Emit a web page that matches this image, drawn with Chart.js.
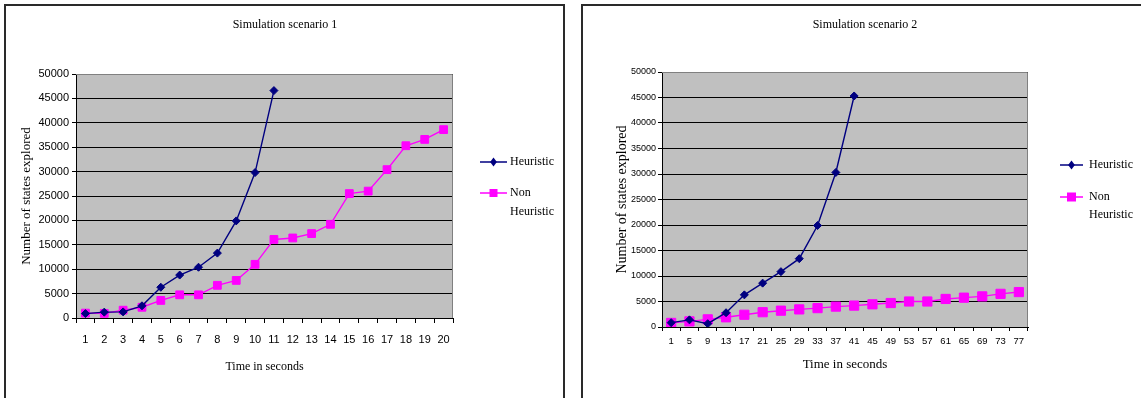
<!DOCTYPE html>
<html>
<head>
<meta charset="utf-8">
<script src="https://cdn.jsdelivr.net/npm/chart.js@4/dist/chart.umd.min.js"></script>
<style>
  body { margin: 0; background: #fff; width: 1141px; height: 398px; overflow: hidden; position: relative; }
  .box { position: absolute; top: 4px; height: 460px; border: 2px solid #2a2a2a; }
  canvas { position: absolute; top: 0; }
</style>
</head>
<body>
<div class="box" style="left:4px; width:557px;"></div>
<div class="box" style="left:581px; width:700px;"></div>
<canvas id="chart1" width="570" height="398" style="left:0px"></canvas>
<canvas id="chart2" width="571" height="398" style="left:570px"></canvas>
<script>
// scenario 1 : one reading per second
const seconds1 = ['1','2','3','4','5','6','7','8','9','10','11','12','13','14','15','16','17','18','19','20'];
const heuristic1 = [900, 1200, 1250, 2500, 6300, 8800, 10400, 13300, 19900, 29800, 46600];
const nonHeuristic1 = [1000, 950, 1600, 2200, 3600, 4750, 4750, 6700, 7700, 11000, 16100, 16400, 17300, 19200, 25500, 26000, 30400, 35300, 36600, 38600];

// scenario 2 : one reading every 4 seconds
const seconds2 = ['1','5','9','13','17','21','25','29','33','37','41','45','49','53','57','61','65','69','73','77'];
const heuristic2 = [850, 1400, 650, 2800, 6300, 8600, 10850, 13400, 19900, 30300, 45300];
const nonHeuristic2 = [800, 1100, 1500, 1900, 2400, 2900, 3200, 3450, 3700, 4000, 4200, 4450, 4700, 5000, 5000, 5500, 5750, 6000, 6500, 6850];

const yTicks = { min: 0, max: 50000, step: 5000 };

const SERIF = "'Liberation Serif', 'Times New Roman', serif";
const SANS = "'Liberation Sans', Arial, sans-serif";
const NARROW = "'Liberation Sans Narrow', 'Liberation Sans', Arial, sans-serif";

// grey plot area, title and the legend on the right
const frame = {
  id: 'frame',
  beforeDraw(chart) {
    const a = chart.chartArea, ctx = chart.ctx;
    ctx.save();
    ctx.fillStyle = '#c0c0c0';
    ctx.fillRect(a.left, a.top, a.width, a.height);
    ctx.restore();
  },
  afterDraw(chart, args, opts) {
    const a = chart.chartArea, ctx = chart.ctx;
    ctx.save();
    ctx.strokeStyle = '#808080';
    ctx.lineWidth = 1;
    ctx.beginPath();
    ctx.moveTo(a.left, a.top + 0.5);
    ctx.lineTo(a.right - 0.5, a.top + 0.5);
    ctx.lineTo(a.right - 0.5, a.bottom);
    ctx.stroke();

    ctx.fillStyle = '#000';
    ctx.font = opts.font;
    ctx.textAlign = 'center';
    ctx.textBaseline = 'middle';
    ctx.fillText(opts.title, opts.titleX, opts.titleY);

    ctx.textAlign = 'left';
    chart.data.datasets.forEach((ds, i) => {
      const y = opts.rows[i];
      ctx.strokeStyle = ds.borderColor;
      ctx.lineWidth = 1.5;
      ctx.beginPath();
      ctx.moveTo(opts.lineFrom, y);
      ctx.lineTo(opts.lineTo, y);
      ctx.stroke();
      const mx = (opts.lineFrom + opts.lineTo) / 2;
      ctx.fillStyle = ds.backgroundColor;
      ctx.beginPath();
      if (ds.pointStyle === 'rectRot') {
        const r = opts.diamond;
        ctx.moveTo(mx, y - r); ctx.lineTo(mx + r * 0.75, y);
        ctx.lineTo(mx, y + r); ctx.lineTo(mx - r * 0.75, y);
        ctx.closePath();
      } else {
        const s = opts.square;
        ctx.rect(mx - s / 2, y - s / 2, s, s);
      }
      ctx.fill();
      ctx.fillStyle = '#000';
      // wrap long labels on two lines
      let lines = [ds.label];
      if (ctx.measureText(ds.label).width > opts.maxText) lines = ds.label.split(' ');
      lines.forEach((t, k) => ctx.fillText(t, opts.textX, y + k * opts.lineGap));
    });
    ctx.restore();
  }
};

function buildChart(id, labels, heur, nonHeur, set) {
  return new Chart(document.getElementById(id), {
    type: 'line',
    data: {
      labels: labels,
      datasets: [{
        label: 'Heuristic',
        data: heur,
        borderColor: '#000080',
        backgroundColor: '#000080',
        borderWidth: 1.4,
        pointStyle: 'rectRot',
        pointRadius: set.diamond,
        pointBorderWidth: 1,
        tension: 0
      },
      {
        label: 'Non Heuristic',
        data: nonHeur,
        borderColor: '#ff00ff',
        backgroundColor: '#ff00ff',
        borderWidth: 1.4,
        pointStyle: 'rect',
        pointRadius: set.squareRadius,
        pointBorderWidth: 1,
        tension: 0
      }]
    },
    options: {
      responsive: false,
      animation: false,
      layout: { padding: set.pad },
      plugins: {
        legend: { display: false },
        title: { display: false },
        tooltip: { enabled: false },
        frame: set.frame
      },
      scales: {
        x: {
          offset: true,
          grid: { offset: true, drawOnChartArea: false, color: '#000', tickLength: set.xTick },
          border: { color: '#000', width: 1 },
          ticks: { color: '#000', font: set.xFont, padding: set.xPad, maxRotation: 0, autoSkip: false },
          title: { display: true, text: 'Time in seconds', color: '#000', font: set.xTitleFont, padding: { top: 0, bottom: 4 } },
          afterFit: s => { s.height = set.xH; }
        },
        y: {
          min: yTicks.min,
          max: yTicks.max,
          grid: { color: '#000', tickLength: 4 },
          border: { color: '#000', width: 1 },
          ticks: { stepSize: yTicks.step, color: '#000', font: set.yFont, padding: set.yPad, callback: v => String(v) },
          title: { display: true, text: 'Number of states explored', color: '#000', font: set.yTitleFont, padding: { top: 4, bottom: 0 } },
          afterFit: s => { s.width = set.yW; }
        }
      }
    },
    plugins: [frame]
  });
}

buildChart('chart1', seconds1, heuristic1, nonHeuristic1, {
  pad: { left: 15, right: 117, top: 74, bottom: 20 },
  yW: 61, xH: 60, xTick: 5, xPad: 10, yPad: 3,
  diamond: 4, squareRadius: 5.5,
  xFont: { family: SANS, size: 11 },
  yFont: { family: SANS, size: 11 },
  xTitleFont: { family: SERIF, size: 12 },
  yTitleFont: { family: SERIF, size: 13 },
  frame: {
    title: 'Simulation scenario 1', titleX: 285, titleY: 25, font: '12px ' + SERIF,
    rows: [162, 193], lineGap: 19, lineFrom: 480, lineTo: 507, textX: 510, maxText: 50,
    diamond: 4.5, square: 8
  }
});

buildChart('chart2', seconds2, heuristic2, nonHeuristic2, {
  pad: { left: 40, right: 113, top: 72, bottom: 22 },
  yW: 52, xH: 49, xTick: 4, xPad: 5, yPad: 2,
  diamond: 4, squareRadius: 6.5,
  xFont: { family: NARROW, size: 9.5 },
  yFont: { family: NARROW, size: 9 },
  xTitleFont: { family: SERIF, size: 13 },
  yTitleFont: { family: SERIF, size: 14 },
  frame: {
    title: 'Simulation scenario 2', titleX: 295, titleY: 25, font: '12px ' + SERIF,
    rows: [165, 197], lineGap: 18, lineFrom: 490, lineTo: 513, textX: 519, maxText: 50,
    diamond: 4.5, square: 9
  }
});
</script>
</body>
</html>
